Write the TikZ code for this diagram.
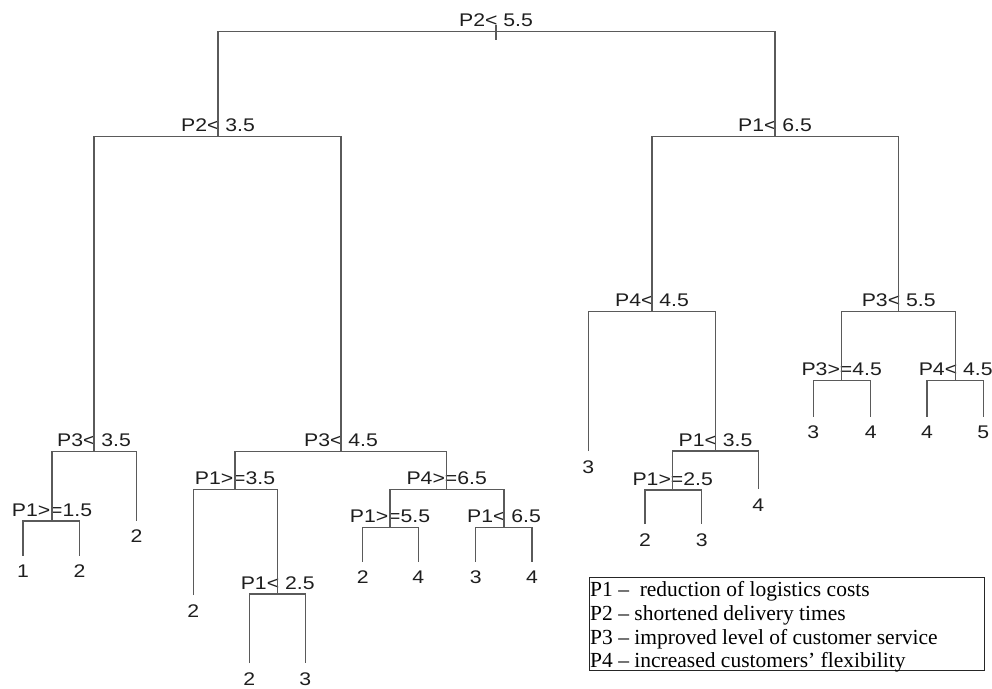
\documentclass[tikz,border=0pt]{standalone}
\usepackage{fontspec}
\newfontfamily\treefont{Liberation Sans}[FakeStretch=1.16]
\newfontfamily\legfont{Liberation Serif}
\definecolor{branch}{HTML}{5A5A5A}
\definecolor{ink}{HTML}{1E1E1E}
\tikzset{
  split/.style={font=\treefont\fontsize{18.3}{20}\selectfont, text=ink, inner sep=0pt, anchor=base},
  leaf/.style={font=\treefont\fontsize{18.3}{20}\selectfont, text=ink, inner xsep=0pt, inner ysep=9.5pt, outer sep=0pt, anchor=north},
  edge/.style={draw=branch, line width=1.5pt},
  legtext/.style={font=\legfont\fontsize{21.5}{23}\selectfont, text=black, inner sep=0pt, anchor=base west},
  legbox/.style={draw=black!85, line width=1.4pt, inner sep=0pt, anchor=north west, minimum width=395pt, minimum height=93pt}
}
\begin{document}
\begin{tikzpicture}[x=1pt,y=-1pt]
\useasboundingbox (0,0) rectangle (992,688);
% split points
\coordinate (c1) at (496,31.5);
\coordinate (c2) at (218,136.5);
\coordinate (c3) at (775,136.5);
\coordinate (c4) at (94,451.5);
\coordinate (c5) at (341,451.5);
\coordinate (c6) at (52,521);
\coordinate (c7) at (235,489.3);
\coordinate (c8) at (277.7,594);
\coordinate (c9) at (446.7,489.3);
\coordinate (c10) at (390,527.3);
\coordinate (c11) at (504,527.3);
\coordinate (c12) at (652,311.7);
\coordinate (c13) at (715.5,451);
\coordinate (c14) at (672.7,490);
\coordinate (c15) at (898.7,311.7);
\coordinate (c16) at (841.7,380.7);
\coordinate (c17) at (955.7,380.7);
\coordinate (rtop) at (496,25);
\coordinate (rbot) at (496,39.5);
% split labels
\node[split] (n1) at (496,26) {P2< 5.5};
\node[split] (n2) at (218,131.5) {P2< 3.5};
\node[split] (n3) at (775,131.5) {P1< 6.5};
\node[split] (n4) at (94,446.5) {P3< 3.5};
\node[split] (n5) at (341,446.5) {P3< 4.5};
\node[split] (n6) at (52,516) {P1>=1.5};
\node[split] (n7) at (235,484.3) {P1>=3.5};
\node[split] (n8) at (277.7,589) {P1< 2.5};
\node[split] (n9) at (446.7,484.3) {P4>=6.5};
\node[split] (n10) at (390,522.3) {P1>=5.5};
\node[split] (n11) at (504,522.3) {P1< 6.5};
\node[split] (n12) at (652,306.7) {P4< 4.5};
\node[split] (n13) at (715.5,446) {P1< 3.5};
\node[split] (n14) at (672.7,485) {P1>=2.5};
\node[split] (n15) at (898.7,306.7) {P3< 5.5};
\node[split] (n16) at (841.7,375.7) {P3>=4.5};
\node[split] (n17) at (955.7,375.7) {P4< 4.5};
% leaves
\node[leaf] (l1) at (23,555.5) {1};
\node[leaf] (l2) at (79.5,555.5) {2};
\node[leaf] (l3) at (136.5,520.5) {2};
\node[leaf] (l4) at (193.3,595) {2};
\node[leaf] (l5) at (249.3,663) {2};
\node[leaf] (l6) at (305.3,663) {3};
\node[leaf] (l7) at (362.7,561.7) {2};
\node[leaf] (l8) at (418.3,561.7) {4};
\node[leaf] (l9) at (475.7,561.7) {3};
\node[leaf] (l10) at (532,561.7) {4};
\node[leaf] (l11) at (588.3,451) {3};
\node[leaf] (l12) at (645,524) {2};
\node[leaf] (l13) at (701.7,524) {3};
\node[leaf] (l14) at (758.3,489) {4};
\node[leaf] (l15) at (813.3,416.7) {3};
\node[leaf] (l16) at (870.7,416.7) {4};
\node[leaf] (l17) at (927,416.7) {4};
\node[leaf] (l18) at (983.3,416.7) {5};
% connectors
\draw[edge] (rtop) -- (rbot);
\draw[edge] (c2) |- (c1) -| (c3);
\draw[edge] (c4) |- (c2) -| (c5);
\draw[edge] (c6) |- (c4) -| (l3.north);
\draw[edge] (l1.north) |- (c6) -| (l2.north);
\draw[edge] (c7) |- (c5) -| (c9);
\draw[edge] (l4.north) |- (c7) -| (c8);
\draw[edge] (l5.north) |- (c8) -| (l6.north);
\draw[edge] (c10) |- (c9) -| (c11);
\draw[edge] (l7.north) |- (c10) -| (l8.north);
\draw[edge] (l9.north) |- (c11) -| (l10.north);
\draw[edge] (c12) |- (c3) -| (c15);
\draw[edge] (l11.north) |- (c12) -| (c13);
\draw[edge] (c14) |- (c13) -| (l14.north);
\draw[edge] (l12.north) |- (c14) -| (l13.north);
\draw[edge] (c16) |- (c15) -| (c17);
\draw[edge] (l15.north) |- (c16) -| (l16.north);
\draw[edge] (l17.north) |- (c17) -| (l18.north);
% legend
\node[legbox] (legend) at (589,577) {};
\node[legtext] (g1) at (590,596.7) {P1 –\ \ reduction of logistics costs};
\node[legtext] (g2) at (590,620.3) {P2 – shortened delivery times};
\node[legtext] (g3) at (590,644) {P3 – improved level of customer service};
\node[legtext] (g4) at (590,667.5) {P4 – increased customers’ flexibility};
\end{tikzpicture}
\end{document}
